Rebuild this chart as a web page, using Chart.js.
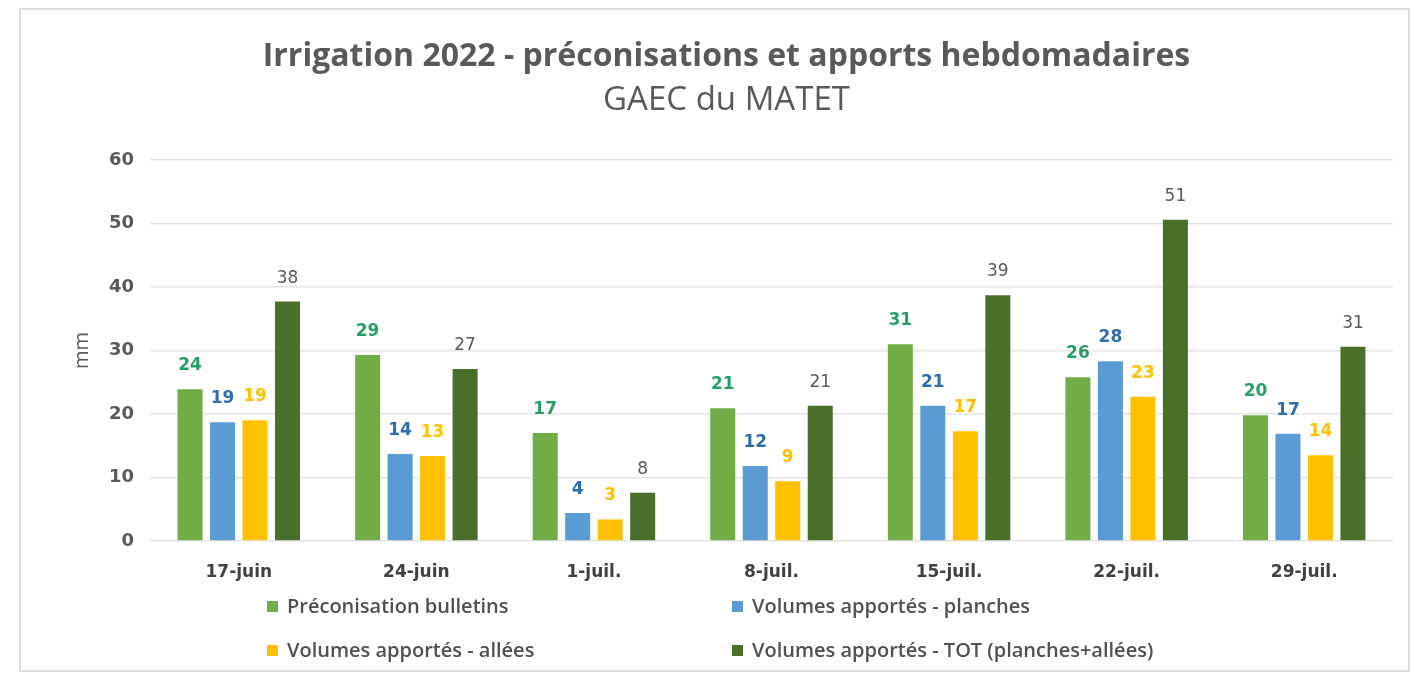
<!DOCTYPE html>
<html>
<head>
<meta charset="utf-8">
<script src="https://cdn.jsdelivr.net/npm/chart.js@4"></script>
<style>
  html, body { margin:0; padding:0; background:#fff; }
  #wrap { position:relative; width:1415px; height:681px; overflow:hidden; }
  #frame { position:absolute; left:19px; top:8px; width:1391px; height:664px; border:2px solid #dcdcdc; box-sizing:border-box; }
  canvas { position:absolute; left:0; top:0; }
  .lg { position:absolute; font-family:"Open Sans", sans-serif; font-size:20px; font-weight:600; color:#505050; white-space:nowrap; line-height:22px; }
  .lg span.sq { position:absolute; width:11px; height:11px; top:6px; }
</style>
</head>
<body>
<div id="wrap">
  <div id="frame"></div>
  <canvas id="c" width="1415" height="681"></canvas>
  <div id="legend"></div>
</div>
<script>
const categories = ['17-juin', '24-juin', '1-juil.', '8-juil.', '15-juil.', '22-juil.', '29-juil.'];
const preconisation = [23.9, 29.3, 17.0, 20.9, 31.0, 25.8, 19.8];
const planches = [18.7, 13.7, 4.4, 11.8, 21.3, 28.3, 16.9];
const allees = [19.0, 13.4, 3.4, 9.4, 17.3, 22.7, 13.5];
const total = [37.7, 27.1, 7.6, 21.3, 38.7, 50.6, 30.6];
const seriesNames = ['Préconisation bulletins', 'Volumes apportés - planches', 'Volumes  apportés - allées', 'Volumes apportés - TOT (planches+allées)'];
const yTicks = [0, 10, 20, 30, 40, 50, 60];

const barColors = ['#70ad47', '#5b9bd5', '#ffc000', '#4a6f2a'];
const labelColors = ['#25a062', '#2e6eb0', '#ffc000', '#595959'];
const labelWeights = ['bold', 'bold', 'bold', 'normal'];

const valueLabels = {
  id: 'valueLabels',
  afterDatasetsDraw(chart) {
    const ctx = chart.ctx;
    ctx.save();
    ctx.textAlign = 'center';
    ctx.textBaseline = 'alphabetic';
    chart.data.datasets.forEach((ds, i) => {
      const meta = chart.getDatasetMeta(i);
      ctx.fillStyle = labelColors[i];
      ctx.font = labelWeights[i] + ' 17px "DejaVu Sans", sans-serif';
      meta.data.forEach((el, j) => {
        ctx.fillText(String(Math.round(ds.data[j])), el.x, el.y - 19);
      });
    });
    ctx.restore();
  }
};

const datasets = [preconisation, planches, allees, total].map((d, i) => ({
  label: seriesNames[i],
  data: d,
  backgroundColor: barColors[i],
  categoryPercentage: 0.732,
  barPercentage: 0.77
}));

const chart = new Chart(document.getElementById('c'), {
  type: 'bar',
  data: { labels: categories, datasets },
  options: {
    responsive: false,
    animation: false,
    layout: { padding: { left: 60, right: 22, top: 0, bottom: 98 } },
    plugins: {
      legend: { display: false },
      tooltip: { enabled: false },
      title: {
        display: true,
        text: 'Irrigation 2022 - préconisations et apports hebdomadaires',
        color: '#595959',
        font: { family: '"Open Sans", sans-serif', size: 32, weight: 'bold' },
        padding: { top: 38, bottom: 0 }
      },
      subtitle: {
        display: true,
        text: 'GAEC du MATET',
        color: '#595959',
        font: { family: '"Open Sans", sans-serif', size: 33, weight: 'normal' },
        padding: { top: 4, bottom: 40 }
      }
    },
    scales: {
      x: {
        grid: { display: false, drawTicks: false },
        border: { display: false },
        ticks: { color: '#404040', padding: 21, font: { family: '"DejaVu Sans", sans-serif', size: 17, weight: 'bold' } },
        afterFit(s) { s.height = 42; }
      },
      y: {
        min: 0, max: 60,
        afterBuildTicks(s) { s.ticks = yTicks.map(v => ({ value: v })); },
        grid: { color: '#e4e4e4', lineWidth: 1.5, drawTicks: false },
        border: { display: false },
        ticks: { color: '#595959', padding: 16, font: { family: '"DejaVu Sans", sans-serif', size: 18, weight: 'bold' } },
        title: { display: true, text: 'mm', color: '#595959', padding: { top: 10, bottom: 0 }, font: { family: '"Open Sans", sans-serif', size: 20 } },
        afterFit(s) { s.width = 90; }
      }
    }
  },
  plugins: [valueLabels]
});

// HTML legend, two columns
const legend = document.getElementById('legend');
const legendCols = [267, 732];
const legendRows = [595, 639];
datasets.forEach((ds, i) => {
  const div = document.createElement('div');
  div.className = 'lg';
  div.style.left = legendCols[i % 2] + 'px';
  div.style.top = legendRows[Math.floor(i / 2)] + 'px';
  div.style.paddingLeft = '20px';
  const sq = document.createElement('span');
  sq.className = 'sq';
  sq.style.left = '0px';
  sq.style.background = ds.backgroundColor;
  div.appendChild(sq);
  div.appendChild(document.createTextNode(ds.label));
  legend.appendChild(div);
});
</script>
</body>
</html>
